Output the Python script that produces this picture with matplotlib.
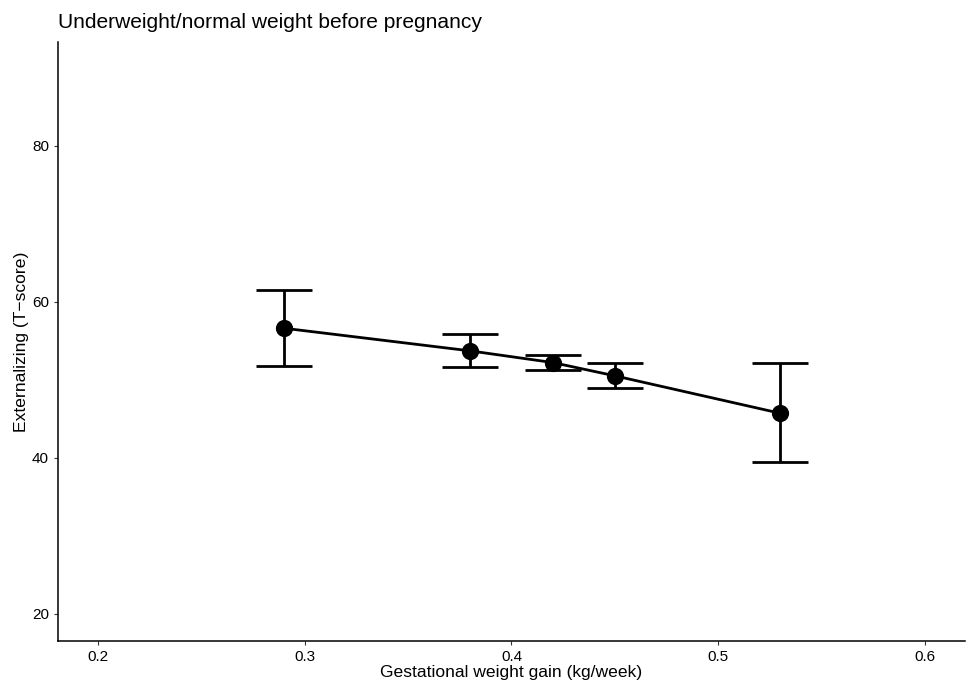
import matplotlib
matplotlib.use("Agg")
import matplotlib.pyplot as plt
import numpy as np

plt.rcParams['font.family'] = ['Liberation Sans', 'DejaVu Sans']

# data
gain = [0.29, 0.38, 0.42, 0.45, 0.53]
score = [56.6, 53.7, 52.2, 50.5, 45.7]
lower = [51.7, 51.6, 51.3, 48.9, 39.4]
upper = [61.5, 55.9, 53.2, 52.1, 52.1]
cap_half = 0.0135

fig = plt.figure(figsize=(9.69, 6.84), dpi=100)
ax = fig.add_axes([58 / 969, 43 / 684, 907 / 969, 599 / 684])

ax.plot(gain, score, color='black', lw=2, zorder=2)
ax.vlines(gain, lower, upper, color='black', lw=2, zorder=2)
g = np.array(gain)
ax.hlines(lower, g - cap_half, g + cap_half, color='black', lw=2, zorder=2)
ax.hlines(upper, g - cap_half, g + cap_half, color='black', lw=2, zorder=2)
ax.scatter(gain, score, s=130, color='black', zorder=3)

ax.set_xlim(0.1806, 0.6194)
ax.set_ylim(16.5, 93.3)
ax.set_xticks([0.2, 0.3, 0.4, 0.5, 0.6])
ax.set_xticklabels(['0.2', '0.3', '0.4', '0.5', '0.6'])
ax.set_yticks([20, 40, 60, 80])

for s in ['top', 'right']:
    ax.spines[s].set_visible(False)
for s in ['left', 'bottom']:
    ax.spines[s].set_linewidth(1.1)
ax.tick_params(axis='both', labelsize=11, length=3, color='#333333', labelcolor='black')

ax.set_xlabel('Gestational weight gain (kg/week)', fontsize=12.6, labelpad=1)
ax.set_ylabel('Externalizing (T\u2212score)', fontsize=12.6, labelpad=2)
fig.text(58 / 969, 1 - 22 / 684, 'Underweight/normal weight before pregnancy',
         fontsize=15.1, va='center', ha='left')

fig.savefig('out.png', dpi=100)
